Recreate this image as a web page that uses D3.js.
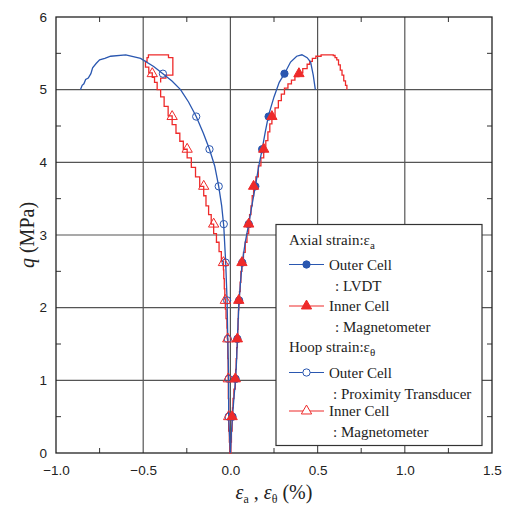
<!DOCTYPE html>
<html>
<head>
<meta charset="utf-8">
<script src="https://cdn.jsdelivr.net/npm/d3@7"></script>
<style>
  body { margin: 0; background: #fff; }
  svg text { fill: #222; }
</style>
</head>
<body>
<div id="chart"></div>
<script>
const width = 512;
const height = 512;
const marginLeft = 56;
const marginRight = 20;
const marginTop = 17;
const marginBottom = 58;

// Outer cell, axial strain (LVDT) - line
const outerAxialX = [0, 0.005, 0.012, 0.02, 0.03, 0.036, 0.04, 0.045, 0.05, 0.058, 0.068, 0.085, 0.105, 0.123, 0.143, 0.163, 0.182, 0.2, 0.219, 0.25, 0.28, 0.31, 0.345, 0.38, 0.41, 0.44, 0.46, 0.475, 0.487];
const outerAxialQ = [0, 0.25, 0.5, 0.75, 1.02, 1.3, 1.57, 1.85, 2.1, 2.35, 2.62, 2.9, 3.15, 3.4, 3.67, 3.95, 4.18, 4.42, 4.65, 4.9, 5.1, 5.22, 5.38, 5.46, 5.48, 5.44, 5.38, 5.2, 5.0];
// Outer cell, hoop strain (proximity transducer) - line
const outerHoopX = [0, -0.005, -0.01, -0.01, -0.015, -0.019, -0.027, -0.038, -0.05, -0.067, -0.09, -0.12, -0.155, -0.196, -0.24, -0.286, -0.335, -0.387, -0.44, -0.515, -0.6, -0.687, -0.72, -0.75, -0.77, -0.79, -0.8, -0.815, -0.83, -0.84, -0.85, -0.86];
const outerHoopQ = [0, 0.25, 0.5, 1.02, 1.57, 2.1, 2.62, 3.12, 3.4, 3.67, 3.95, 4.18, 4.4, 4.63, 4.83, 5.0, 5.12, 5.22, 5.32, 5.43, 5.48, 5.46, 5.43, 5.41, 5.36, 5.3, 5.22, 5.16, 5.14, 5.08, 5.06, 5.0];
// Inner cell, axial strain (magnetometer) - stepped record
const innerAxialX = [0, 0.003, 0.006, 0.01, 0.012, 0.015, 0.02, 0.028, 0.03, 0.033, 0.036, 0.04, 0.042, 0.044, 0.046, 0.048, 0.052, 0.056, 0.06, 0.066, 0.075, 0.085, 0.095, 0.105, 0.11, 0.118, 0.125, 0.133, 0.146, 0.16, 0.175, 0.191, 0.203, 0.215, 0.226, 0.238, 0.256, 0.275, 0.292, 0.31, 0.33, 0.35, 0.37, 0.393, 0.415, 0.44, 0.455, 0.47, 0.49, 0.52, 0.555, 0.59, 0.6, 0.61, 0.62, 0.63, 0.64, 0.65, 0.66, 0.668];
const innerAxialQ = [0, 0.15, 0.3, 0.5, 0.62, 0.75, 0.88, 1.02, 1.15, 1.3, 1.45, 1.57, 1.7, 1.85, 1.97, 2.1, 2.22, 2.35, 2.5, 2.62, 2.76, 2.9, 3.02, 3.15, 3.28, 3.4, 3.54, 3.67, 3.8, 3.95, 4.06, 4.18, 4.3, 4.42, 4.53, 4.64, 4.75, 4.85, 4.94, 5.02, 5.08, 5.13, 5.18, 5.23, 5.29, 5.35, 5.39, 5.43, 5.46, 5.48, 5.48, 5.47, 5.44, 5.41, 5.34, 5.27, 5.2, 5.12, 5.06, 5.0];
// Inner cell, hoop strain (magnetometer) - stepped record
const innerHoopX = [0, -0.004, -0.006, -0.01, -0.01, -0.012, -0.013, -0.015, -0.018, -0.02, -0.025, -0.029, -0.032, -0.035, -0.038, -0.04, -0.052, -0.065, -0.08, -0.096, -0.11, -0.125, -0.14, -0.153, -0.176, -0.2, -0.224, -0.248, -0.27, -0.29, -0.312, -0.334, -0.357, -0.38, -0.4, -0.42, -0.435, -0.448, -0.468, -0.487, -0.478, -0.47, -0.435, -0.4, -0.355, -0.33, -0.33, -0.37, -0.4];
const innerHoopQ = [0, 0.15, 0.3, 0.5, 0.75, 1.02, 1.3, 1.57, 1.72, 1.85, 1.98, 2.12, 2.26, 2.4, 2.52, 2.64, 2.77, 2.9, 3.02, 3.15, 3.28, 3.4, 3.54, 3.67, 3.8, 3.93, 4.06, 4.18, 4.29, 4.4, 4.52, 4.64, 4.77, 4.9, 5.0, 5.1, 5.17, 5.23, 5.31, 5.39, 5.44, 5.48, 5.48, 5.48, 5.44, 5.34, 5.2, 5.16, 5.1];

// marker positions
const markerQ = [0.5, 1.02, 1.57, 2.1, 2.62, 3.15, 3.67, 4.18, 4.63, 5.22];
const outerAxialMarkX = [0.012, 0.03, 0.04, 0.05, 0.068, 0.105, 0.143, 0.182, 0.219, 0.31];
const outerHoopMarkX = [-0.01, -0.01, -0.015, -0.019, -0.027, -0.038, -0.067, -0.12, -0.196, -0.387];
const innerAxialMarkX = [0.01, 0.028, 0.04, 0.048, 0.066, 0.105, 0.133, 0.191, 0.238, 0.393];
const innerHoopMarkX = [-0.01, -0.012, -0.015, -0.029, -0.04, -0.096, -0.153, -0.248, -0.334, -0.448];

const xTicks = [-1.0, -0.5, 0.0, 0.5, 1.0, 1.5];
const xMinor = [-0.75, -0.25, 0.25, 0.75, 1.25];
const yTicks = [0, 1, 2, 3, 4, 5, 6];
const yMinor = [0.5, 1.5, 2.5, 3.5, 4.5, 5.5];

const blue = "#2a57b0";
const red = "#ee2a2a";

const svg = d3.select("#chart").append("svg")
    .attr("width", width)
    .attr("height", height);

const x = d3.scaleLinear().domain([-1, 1.5]).range([marginLeft, width - marginRight]);
const y = d3.scaleLinear().domain([0, 6]).range([height - marginBottom - 1, marginTop]);

// grid
svg.append("g")
    .selectAll("line")
    .data(xTicks.slice(1, -1))
    .join("line")
    .attr("x1", d => x(d)).attr("x2", d => x(d))
    .attr("y1", y(0)).attr("y2", y(6))
    .attr("stroke", "#555").attr("stroke-width", 1.2);
svg.append("g")
    .selectAll("line")
    .data(yTicks.slice(1, -1))
    .join("line")
    .attr("x1", x(-1)).attr("x2", x(1.5))
    .attr("y1", d => y(d)).attr("y2", d => y(d))
    .attr("stroke", "#555").attr("stroke-width", 1.2);

// minor ticks, inward on all four sides
const tickLen = 5;
const ticks = svg.append("g").attr("stroke", "#333").attr("stroke-width", 1);
xMinor.forEach(v => {
    ticks.append("line").attr("x1", x(v)).attr("x2", x(v)).attr("y1", y(0)).attr("y2", y(0) - tickLen);
    ticks.append("line").attr("x1", x(v)).attr("x2", x(v)).attr("y1", y(6)).attr("y2", y(6) + tickLen);
});
yMinor.forEach(v => {
    ticks.append("line").attr("x1", x(-1)).attr("x2", x(-1) + tickLen).attr("y1", y(v)).attr("y2", y(v));
    ticks.append("line").attr("x1", x(1.5)).attr("x2", x(1.5) - tickLen).attr("y1", y(v)).attr("y2", y(v));
});

// frame
svg.append("rect")
    .attr("x", x(-1)).attr("y", y(6))
    .attr("width", x(1.5) - x(-1)).attr("height", y(0) - y(6))
    .attr("fill", "none").attr("stroke", "#222").attr("stroke-width", 1.3);

// axes labels
svg.append("g")
    .attr("transform", `translate(0,${y(0)})`)
    .call(d3.axisBottom(x).tickValues(xTicks).tickSize(0).tickPadding(12).tickFormat(d3.format(".1f")))
    .call(g => g.select(".domain").remove())
    .selectAll("text")
    .style("font-family", "'Liberation Sans', Arial, sans-serif")
    .style("font-size", "13.5px");

svg.append("g")
    .attr("transform", `translate(${x(-1)},0)`)
    .call(d3.axisLeft(y).tickValues(yTicks).tickSize(0).tickPadding(9).tickFormat(d3.format("d")))
    .call(g => g.select(".domain").remove())
    .selectAll("text")
    .style("font-family", "'Liberation Sans', Arial, sans-serif")
    .style("font-size", "13.5px");

// curves
const lineGen = d3.line().x(d => x(d[0])).y(d => y(d[1]));
const stepGen = d3.line().x(d => x(d[0])).y(d => y(d[1])).curve(d3.curveStepAfter);

const plot = svg.append("g");
plot.append("path").datum(d3.zip(innerHoopX, innerHoopQ))
    .attr("d", stepGen).attr("fill", "none").attr("stroke", red).attr("stroke-width", 1.3);
plot.append("path").datum(d3.zip(innerAxialX, innerAxialQ))
    .attr("d", stepGen).attr("fill", "none").attr("stroke", red).attr("stroke-width", 1.3);
plot.append("path").datum(d3.zip(outerHoopX, outerHoopQ))
    .attr("d", lineGen).attr("fill", "none").attr("stroke", blue).attr("stroke-width", 1.3);
plot.append("path").datum(d3.zip(outerAxialX, outerAxialQ))
    .attr("d", lineGen).attr("fill", "none").attr("stroke", blue).attr("stroke-width", 1.3);

const circleSym = d3.symbol().type(d3.symbolCircle).size(42);
const triSym = d3.symbol().type(d3.symbolTriangle).size(46);

function markers(xs, sym, color, filled) {
    plot.append("g")
        .selectAll("path")
        .data(d3.zip(xs, markerQ))
        .join("path")
        .attr("transform", d => `translate(${x(d[0])},${y(d[1])})`)
        .attr("d", sym)
        .attr("fill", filled ? color : "none")
        .attr("stroke", color)
        .attr("stroke-width", 1);
}
markers(outerHoopMarkX, circleSym, blue, false);
markers(innerHoopMarkX, triSym, red, false);
markers(outerAxialMarkX, circleSym, blue, true);
markers(innerAxialMarkX, triSym, red, true);

// axis titles
const serif = "'Liberation Serif', 'Times New Roman', serif";
const xt = svg.append("text")
    .attr("x", 274).attr("y", 499)
    .attr("text-anchor", "middle")
    .style("font-family", serif).style("font-size", "20px");
xt.append("tspan").style("font-style", "italic").text("ε");
xt.append("tspan").attr("dy", 4).style("font-size", "12px").text("a");
xt.append("tspan").attr("dy", -4).text(" , ");
xt.append("tspan").style("font-style", "italic").text("ε");
xt.append("tspan").attr("dy", 4).style("font-size", "12px").text("θ");
xt.append("tspan").attr("dy", -4).text(" (%)");

const yt = svg.append("text")
    .attr("transform", `translate(34,${(y(0) + y(6)) / 2}) rotate(-90)`)
    .attr("text-anchor", "middle")
    .style("font-family", serif).style("font-size", "20px");
yt.append("tspan").style("font-style", "italic").text("q");
yt.append("tspan").text(" (MPa)");

// legend
const legend = svg.append("g").style("font-family", serif).style("font-size", "15px");
legend.append("rect")
    .attr("x", 276).attr("y", 224.5).attr("width", 206).attr("height", 221)
    .attr("fill", "#fff").attr("stroke", "#333").attr("stroke-width", 1.2);

function header(ty, main, sub) {
    const t = legend.append("text").attr("x", 289).attr("y", ty);
    t.append("tspan").text(main);
    t.append("tspan").attr("dy", 4).style("font-size", "11px").text(sub);
}
function item(ly, color, sym, filled, label1, label2, indent) {
    legend.append("line").attr("x1", 289).attr("x2", 324).attr("y1", ly).attr("y2", ly)
        .attr("stroke", color).attr("stroke-width", 1.2);
    legend.append("path").attr("transform", `translate(306.5,${ly})`).attr("d", sym)
        .attr("fill", filled ? color : "#fff").attr("stroke", color).attr("stroke-width", 1);
    legend.append("text").attr("x", 329).attr("y", ly + 5).text(label1);
    legend.append("text").attr("x", indent).attr("y", ly + 26).text(label2);
}
header(245, "Axial strain:ε", "a");
item(264.5, blue, circleSym, true, "Outer Cell", ": LVDT", 335);
item(306, red, triSym, true, "Inner Cell", ": Magnetometer", 335);
header(352, "Hoop strain:ε", "θ");
item(372.5, blue, circleSym, false, "Outer Cell", ": Proximity Transducer", 333);
item(411, red, triSym, false, "Inner Cell", ": Magnetometer", 333);
</script>
</body>
</html>
